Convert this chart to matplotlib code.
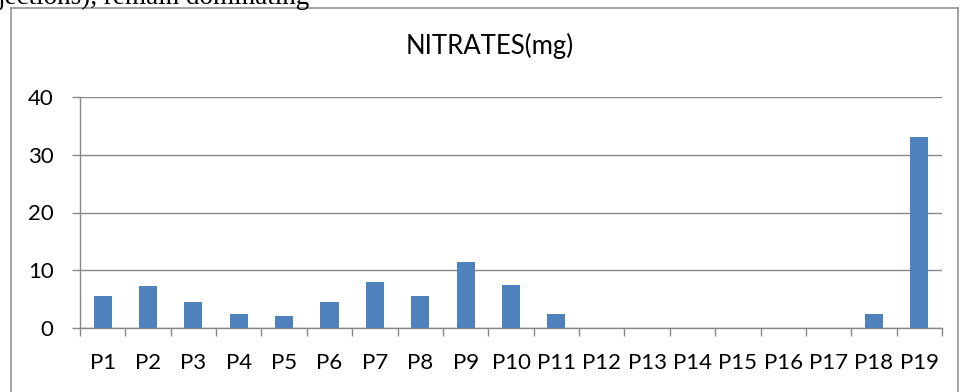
import matplotlib
matplotlib.use("Agg")
import matplotlib.pyplot as plt
from matplotlib.lines import Line2D
import numpy as np

sites = ["P1", "P2", "P3", "P4", "P5", "P6", "P7", "P8", "P9", "P10",
         "P11", "P12", "P13", "P14", "P15", "P16", "P17", "P18", "P19"]
nitrates = [5.6, 7.3, 4.6, 2.5, 2.2, 4.5, 8.0, 5.6, 11.5, 7.4,
            2.5, 0, 0, 0, 0, 0, 0, 2.4, 33.0]
y_ticks = [0, 10, 20, 30, 40]

W, H = 960, 392
BAR = "#4f81bd"
GRID = "#878787"

plt.rcParams["font.family"] = ["Lato", "DejaVu Sans"]

fig = plt.figure(figsize=(W / 100, H / 100), dpi=100)
ax = fig.add_axes([80 / W, 63.7 / H, 862 / W, 231.6 / H])

x = np.arange(len(sites))
ax.bar(x, nitrates, width=0.40, color=BAR, zorder=3)

ax.set_xlim(-0.5, len(sites) - 0.5)
ax.set_ylim(0, 40)
ax.set_yticks(y_ticks)
ax.grid(axis="y", color=GRID, linewidth=1.0, zorder=0)

# labels at bar centres, tick marks on category boundaries
ax.set_xticks(x)
ax.set_xticklabels(sites)
ax.set_xticks(np.arange(len(sites) + 1) - 0.5, minor=True)
ax.tick_params(axis="x", which="major", length=0, pad=18, labelsize=16)
ax.tick_params(axis="x", which="minor", length=6, width=1.0, color=GRID,
               direction="out")
ax.tick_params(axis="y", length=6, width=1.0, color=GRID, pad=13,
               labelsize=16)

for side in ("top", "right"):
    ax.spines[side].set_visible(False)
for side in ("left", "bottom"):
    ax.spines[side].set_color(GRID)
    ax.spines[side].set_linewidth(1.0)

fig.text(490 / W, 1 - 46 / H, "NITRATES(mg)", ha="center", va="center",
         fontsize=18.5)

# chart frame
frame = dict(color="#8a8a8a", linewidth=1.1)
fig.add_artist(Line2D([11 / W, 11 / W], [0, 1 - 8 / H], **frame))
fig.add_artist(Line2D([11 / W, 958 / W], [1 - 8 / H, 1 - 8 / H], **frame))
fig.add_artist(Line2D([958 / W, 958 / W], [0, 1 - 8 / H], **frame))

# tail of the surrounding paragraph
fig.text(-2 / W, 1 - 3.5 / H, "jections), remain dominating", ha="left",
         va="baseline", fontsize=19.5, family="Liberation Serif")

fig.savefig("out.png", dpi=100)
